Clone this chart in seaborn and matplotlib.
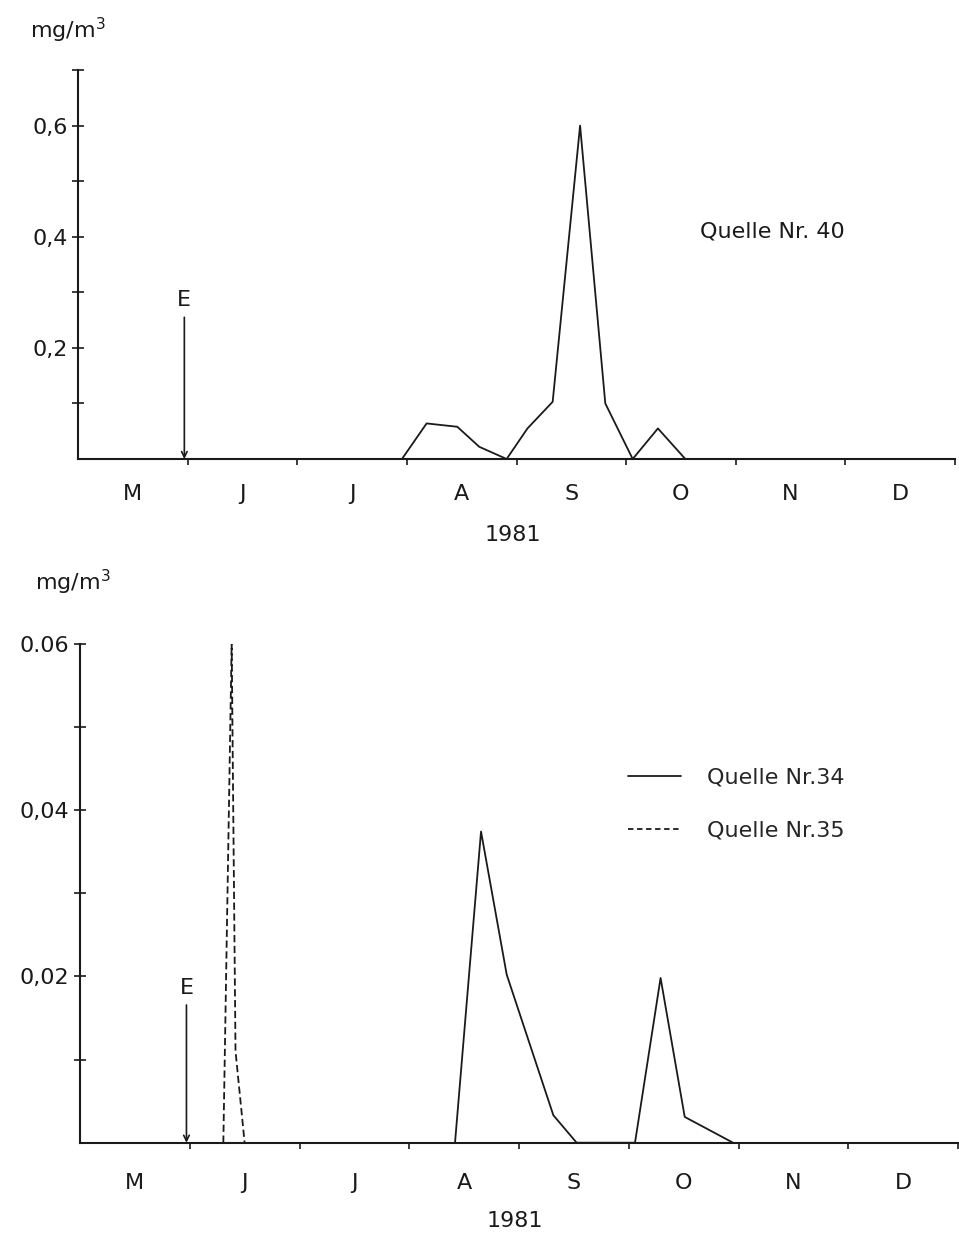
import matplotlib
matplotlib.use("Agg")
import matplotlib.pyplot as plt
import seaborn as sns
import pandas as pd
from matplotlib.lines import Line2D

# ---------------- data ----------------
month_labels = ["M", "J", "J", "A", "S", "O", "N", "D"]
year_label = "1981"
unit_label = "mg/m$^3$"

# time axis: months since 1 May 1981
q40_time = [2.955, 3.18, 3.46, 3.66, 3.91, 4.10, 4.33, 4.58, 4.81, 5.06, 5.29, 5.54]
q40_value = [0.0, 0.064, 0.058, 0.022, 0.0, 0.055, 0.103, 0.600, 0.100, 0.0, 0.055, 0.0]

q34_time = [3.417, 3.654, 3.888, 4.313, 4.525, 5.057, 5.29, 5.51, 5.95]
q34_value = [0.0, 0.0374, 0.0202, 0.0033, 0.0, 0.0, 0.0198, 0.0031, 0.0]

q35_time = [1.306, 1.382, 1.417, 1.50]
q35_value = [0.0, 0.060, 0.011, 0.0]

e_time = 0.97
top_yticks = [0.1, 0.2, 0.3, 0.4, 0.5, 0.6, 0.7]
top_yticklabels = ["", "0,2", "", "0,4", "", "0,6", ""]
bot_yticks = [0.01, 0.02, 0.03, 0.04, 0.05, 0.06]
bot_yticklabels = ["", "0,02", "", "0,04", "", "0.06"]

df40 = pd.DataFrame({"t": q40_time, "v": q40_value})
df34 = pd.DataFrame({"t": q34_time, "v": q34_value})
df35 = pd.DataFrame({"t": q35_time, "v": q35_value})

# ---------------- style ----------------
sns.set_style("ticks")
plt.rcParams["font.family"] = ["DejaVu Sans"]
plt.rcParams["mathtext.fontset"] = "dejavusans"
FS = 16
LW_AX = 1.5
LW = 1.3
INK = "#1a1a1a"

fig = plt.figure(figsize=(9.59, 12.33), dpi=100)
W, H = 959, 1233

def px_axes(x0, x1, ytop, ybot):
    return fig.add_axes([x0 / W, 1 - ybot / H, (x1 - x0) / W, (ybot - ytop) / H])

ax1 = px_axes(78, 955, 70, 459)
ax2 = px_axes(80, 958, 643.5, 1142.7)

def style_axis(ax, ymax, yticks, yticklabels, label_pad):
    ax.set_xlim(0, 8)
    ax.set_ylim(0, ymax)
    for s in ["top", "right"]:
        ax.spines[s].set_visible(False)
    for s in ["left", "bottom"]:
        ax.spines[s].set_linewidth(LW_AX)
        ax.spines[s].set_color(INK)
    # month boundaries as major ticks, month names at centres as minor ticks
    ax.set_xticks(list(range(1, 9)))
    ax.set_xticklabels([])
    ax.set_xticks([i + 0.5 for i in range(8)], minor=True)
    ax.set_xticklabels(month_labels, minor=True, fontsize=FS, color=INK)
    ax.tick_params(axis="x", which="major", bottom=True, direction="out",
                   length=4, width=1.2, color=INK)
    ax.tick_params(axis="x", which="minor", bottom=True, length=0, pad=label_pad)
    ax.set_yticks(yticks)
    ax.set_yticklabels(yticklabels, fontsize=FS, color=INK)
    ax.tick_params(axis="y", which="major", left=True, direction="inout",
                   length=9, width=1.2, color=INK, pad=3)
    ax.tick_params(axis="y", which="minor", left=False)
    ax.set_xlabel("")
    ax.set_ylabel("")
    ax.set_facecolor("white")

# ---------------- top panel ----------------
sns.lineplot(data=df40, x="t", y="v", ax=ax1, color=INK, lw=LW,
             estimator=None, sort=False)
style_axis(ax1, 0.7, top_yticks, top_yticklabels, 18)
ax1.annotate("", xy=(e_time, 0.0), xytext=(e_time, 0.255),
             arrowprops=dict(arrowstyle="->", color=INK, lw=1.2,
                             shrinkA=0, shrinkB=0, mutation_scale=10))
ax1.text(e_time, 0.287, "E", ha="center", va="center", fontsize=FS, color=INK)
ax1.text(5.675, 0.41, "Quelle Nr. 40", ha="left", va="center",
         fontsize=FS, color=INK)

# ---------------- bottom panel ----------------
sns.lineplot(data=df34, x="t", y="v", ax=ax2, color=INK, lw=LW,
             estimator=None, sort=False)
sns.lineplot(data=df35, x="t", y="v", ax=ax2, color=INK, lw=LW,
             estimator=None, sort=False, linestyle=(0, (4, 2)))
style_axis(ax2, 0.06, bot_yticks, bot_yticklabels, 22)
ax2.annotate("", xy=(e_time, 0.0), xytext=(e_time, 0.01655),
             arrowprops=dict(arrowstyle="->", color=INK, lw=1.2,
                             shrinkA=0, shrinkB=0, mutation_scale=10))
ax2.text(e_time, 0.0186, "E", ha="center", va="center", fontsize=FS, color=INK)

handles = [Line2D([], [], color=INK, lw=LW),
           Line2D([], [], color=INK, lw=LW, linestyle=(0, (3, 2)))]
ax2.legend(handles, ["Quelle Nr.34", "Quelle Nr.35"], loc="upper left",
           bbox_to_anchor=(0.624, 0.752), frameon=False, fontsize=FS,
           borderpad=0, borderaxespad=0, handlelength=2.4,
           handletextpad=1.15, labelspacing=1.5)

# ---------------- free text ----------------
fig.text(30 / W, 1 - 38 / H, unit_label, fontsize=FS, color=INK,
         ha="left", va="baseline")
fig.text(35 / W, 1 - 590 / H, unit_label, fontsize=FS, color=INK,
         ha="left", va="baseline")
fig.text(513 / W, 1 - 535 / H, year_label, fontsize=FS, color=INK,
         ha="center", va="center")
fig.text(515 / W, 1 - 1221 / H, year_label, fontsize=FS, color=INK,
         ha="center", va="center")

fig.savefig("out.png", dpi=100, facecolor="white")
